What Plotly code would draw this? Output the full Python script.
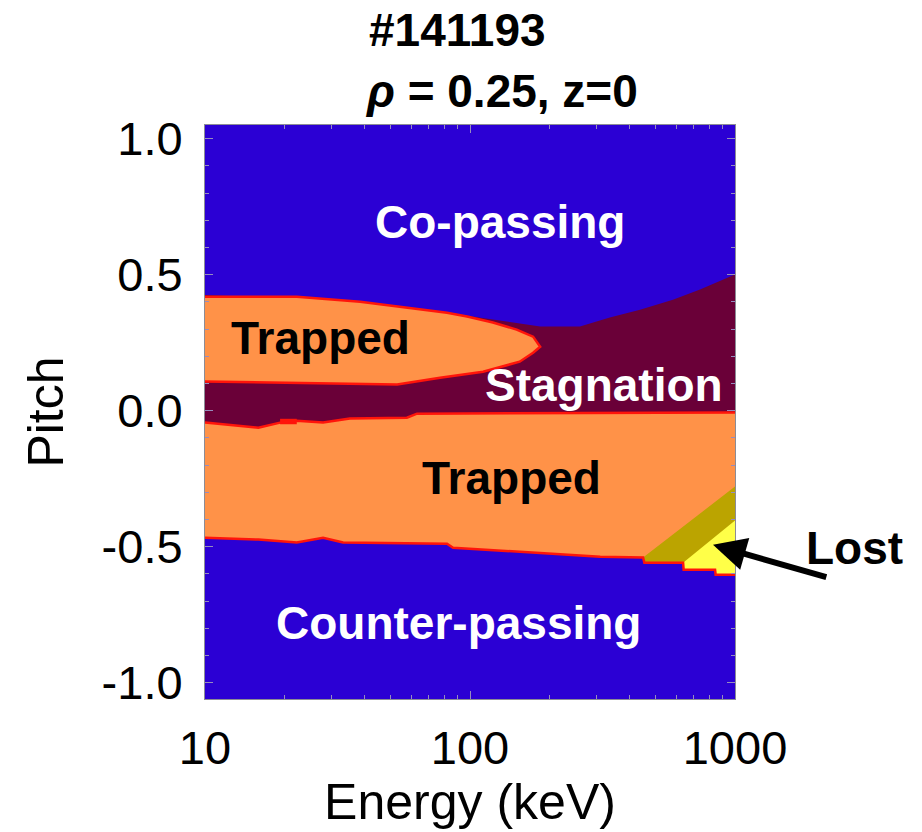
import numpy as np
import plotly.graph_objects as go

# ---- orbit-class boundaries in (energy [keV], pitch) ----
# co-passing / non-passing boundary (top of stagnation zone)
stag_top_E = [10, 38.5, 60.9, 81.9, 97.5, 130, 184, 260, 337, 438, 583, 738, 1000]
stag_top_p = [0.425, 0.402, 0.378, 0.363, 0.349, 0.332, 0.309, 0.309, 0.342, 0.371, 0.408, 0.445, 0.50]

# upper trapped island
trap_up_top_E = [10, 22.2, 38.5, 60.9, 81.9, 97.5, 122, 150, 173, 184]
trap_up_top_p = [0.419, 0.419, 0.400, 0.375, 0.360, 0.346, 0.324, 0.298, 0.272, 0.235]
trap_up_bot_E = [10, 53.1, 77.1, 112, 154, 173, 184]
trap_up_bot_p = [0.107, 0.096, 0.121, 0.143, 0.180, 0.213, 0.235]

# stagnation / lower trapped boundary
stag_bot_E = [10, 15.9, 19.2, 22.2, 27.9, 35.2, 57.8, 63.1, 1000]
stag_bot_p = [-0.044, -0.063, -0.044, -0.037, -0.044, -0.029, -0.026, -0.011, -0.007]

# lower trapped / counter-passing boundary
trap_lo_bot_E = [10, 15.9, 22.2, 27.9, 33.2, 81.9, 86.3, 154, 310, 450, 455, 637, 640, 841, 845, 1000]
trap_lo_bot_p = [-0.467, -0.474, -0.485, -0.467, -0.485, -0.489, -0.504, -0.518, -0.537,
                 -0.540, -0.559, -0.559, -0.585, -0.585, -0.603, -0.603]

# lost-orbit wedges
lost_a_top_E = [450, 1000]
lost_a_top_p = [-0.540, -0.279]
lost_b_top_E = [637, 1000]
lost_b_top_p = [-0.559, -0.404]

# small isolated patch on the stagnation edge
patch_E = [19.2, 22.2, 22.2, 19.2]
patch_p = [-0.030, -0.030, -0.050, -0.050]

C_BLUE = "rgb(43,0,212)"
C_ORANGE = "rgb(255,146,72)"
C_MAROON = "rgb(106,0,56)"
C_OLIVE = "rgb(187,164,0)"
C_YELLOW = "rgb(255,255,72)"
C_RED = "rgb(255,20,10)"

FONT = "Liberation Sans, Arial, Helvetica, sans-serif"


def under_curve(E_lo, E_hi, Es, ps):
    """Points of a boundary curve lying within [E_lo, E_hi]."""
    return [(e, p) for e, p in zip(Es, ps) if E_lo <= e <= E_hi]


def poly(xs, ys, color, name):
    return go.Scatter(x=xs, y=ys, mode="lines", fill="toself", fillcolor=color,
                      line=dict(width=0, color=color), hoverinfo="skip",
                      name=name, showlegend=False)


fig = go.Figure()

# stagnation zone
fig.add_trace(poly(stag_top_E + stag_bot_E[::-1], stag_top_p + stag_bot_p[::-1],
                   C_MAROON, "Stagnation"))
# upper trapped island
fig.add_trace(poly(trap_up_top_E + trap_up_bot_E[::-1], trap_up_top_p + trap_up_bot_p[::-1],
                   C_ORANGE, "Trapped"))
# lower trapped band
fig.add_trace(poly(stag_bot_E + trap_lo_bot_E[::-1], stag_bot_p + trap_lo_bot_p[::-1],
                   C_ORANGE, "Trapped"))

# lost wedges
for top_E, top_p, col in ((lost_a_top_E, lost_a_top_p, C_OLIVE),
                          (lost_b_top_E, lost_b_top_p, C_YELLOW)):
    bot = under_curve(top_E[0], top_E[-1], trap_lo_bot_E, trap_lo_bot_p)
    xs = list(top_E) + [e for e, _ in bot[::-1]]
    ys = list(top_p) + [p for _, p in bot[::-1]]
    fig.add_trace(poly(xs, ys, col, "Lost"))

fig.add_trace(poly(patch_E, patch_p, C_RED, "patch"))

# red separatrix outlines
red_lines = [
    (trap_up_top_E + trap_up_bot_E[::-1], trap_up_top_p + trap_up_bot_p[::-1]),
    (stag_bot_E, stag_bot_p),
    (trap_lo_bot_E, trap_lo_bot_p),
]
for xs, ys in red_lines:
    fig.add_trace(go.Scatter(x=xs, y=ys, mode="lines", line=dict(color=C_RED, width=2.5),
                             hoverinfo="skip", showlegend=False))

# region labels
labels = [
    ("Co-passing", 130, 0.695, "white"),
    ("Trapped", 27.2, 0.268, "black"),
    ("Stagnation", 321, 0.096, "white"),
    ("Trapped", 143, -0.246, "black"),
    ("Counter-passing", 90.2, -0.779, "white"),
]
for txt, e, p, col in labels:
    fig.add_annotation(x=np.log10(e), y=p, xref="x", yref="y", text=f"<b>{txt}</b>",
                       showarrow=False, font=dict(family=FONT, size=46, color=col))

# label for the lost region sits outside the frame
fig.add_annotation(x=1.226, y=0.263, xref="paper", yref="paper", text="<b>Lost</b>",
                   xanchor="center", yanchor="middle", showarrow=False,
                   font=dict(family=FONT, size=46, color="black"))

# arrow pointing at the lost region
fig.add_annotation(x=np.log10(826), y=-0.493, ax=np.log10(2240), ay=-0.614,
                   xref="x", yref="y", axref="x", ayref="y", text="",
                   showarrow=True, arrowhead=2, arrowsize=1.1, arrowwidth=6,
                   arrowcolor="black")

# title lines
fig.add_annotation(x=0.3057, y=1.165, xref="paper", yref="paper", xanchor="left",
                   yanchor="middle", text="<b>#141193</b>", showarrow=False,
                   font=dict(family=FONT, size=46, color="black"))
fig.add_annotation(x=0.298, y=1.06, xref="paper", yref="paper", xanchor="left",
                   yanchor="middle", text="<b><i>ρ</i> = 0.25, z=0</b>", showarrow=False,
                   font=dict(family=FONT, size=46, color="black"))

x_ticks = [10, 100, 1000]
x_minor = [20, 30, 40, 50, 60, 70, 80, 90, 200, 300, 400, 500, 600, 700, 800, 900]
y_ticks = [-1.0, -0.5, 0.0, 0.5, 1.0]
y_ticktext = ["-1.0", "-0.5", "0.0", "0.5", "1.0"]

TICKC = "rgb(150,140,190)"
fig.update_layout(
    width=922, height=832,
    margin=dict(l=205, r=187, t=125, b=133),
    paper_bgcolor="white", plot_bgcolor=C_BLUE,
    font=dict(family=FONT, size=47, color="black"),
    showlegend=False,
    xaxis=dict(type="log", range=[1, 3], tickvals=x_ticks, ticktext=["10", "100", "1000"],
               ticks="inside", ticklen=8, tickwidth=1, tickcolor=TICKC,
               minor=dict(tickvals=x_minor, ticks="inside", ticklen=4, tickcolor=TICKC),
               showgrid=False, zeroline=False, showline=True, linecolor="rgb(140,140,150)",
               linewidth=1, mirror="ticks", ticklabelstandoff=8,
               title=dict(text="Energy (keV)", font=dict(size=50), standoff=4),
               tickfont=dict(size=47)),
    yaxis=dict(range=[-1.06, 1.05], tickvals=y_ticks, ticktext=y_ticktext,
               ticks="inside", ticklen=8, tickwidth=1, tickcolor=TICKC,
               minor=dict(dtick=0.1, tick0=0, ticks="inside", ticklen=4, tickcolor=TICKC),
               showgrid=False, zeroline=False, showline=True, linecolor="rgb(140,140,150)",
               linewidth=1, mirror="ticks", ticklabelstandoff=12,
               title=dict(text="Pitch", font=dict(size=50), standoff=22),
               tickfont=dict(size=47)),
)

fig.write_html("out.html")
